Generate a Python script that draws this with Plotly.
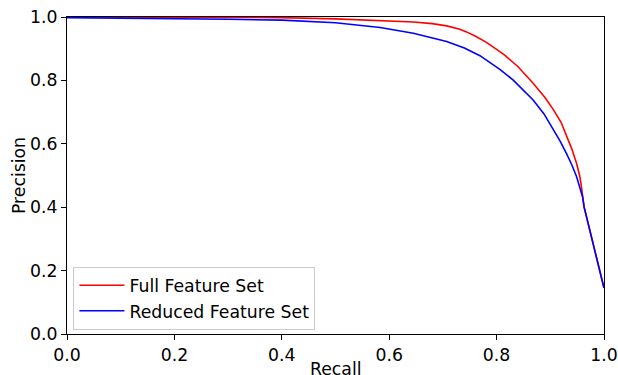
import plotly.graph_objects as go

recall_full = [0.0, 0.1, 0.2, 0.3, 0.4, 0.5, 0.583, 0.645, 0.68, 0.707, 0.73, 0.744, 0.76,
               0.781, 0.80, 0.815, 0.84, 0.868, 0.89, 0.906, 0.92, 0.930, 0.940, 0.949,
               0.955, 0.958, 0.963, 1.0]
precision_full = [1.0, 1.0, 0.9995, 0.999, 0.998, 0.994, 0.988, 0.984, 0.979, 0.972, 0.962,
                  0.953, 0.940, 0.920, 0.898, 0.880, 0.843, 0.791, 0.746, 0.707, 0.668,
                  0.628, 0.584, 0.538, 0.497, 0.464, 0.40, 0.145]

recall_reduced = [0.0, 0.1, 0.2, 0.3, 0.4, 0.44, 0.5, 0.583, 0.645, 0.707, 0.74, 0.769, 0.79,
                  0.806, 0.831, 0.85, 0.868, 0.888, 0.906, 0.918, 0.930, 0.940, 0.949, 0.956,
                  0.960, 0.963, 1.0]
precision_reduced = [0.998, 0.997, 0.995, 0.993, 0.990, 0.987, 0.982, 0.967, 0.949, 0.923,
                     0.902, 0.878, 0.855, 0.835, 0.801, 0.770, 0.738, 0.695, 0.644, 0.609,
                     0.570, 0.534, 0.496, 0.460, 0.433, 0.40, 0.145]

tick_vals = [0.0, 0.2, 0.4, 0.6, 0.8, 1.0]
tick_text = ["0.0", "0.2", "0.4", "0.6", "0.8", "1.0"]

font = dict(family="DejaVu Sans", size=17.3, color="black")

fig = go.Figure()
fig.add_trace(go.Scatter(x=recall_full, y=precision_full, mode="lines",
                         name="Full Feature Set", line=dict(color="#ff0000", width=1.6)))
fig.add_trace(go.Scatter(x=recall_reduced, y=precision_reduced, mode="lines",
                         name="Reduced Feature Set", line=dict(color="#0000ff", width=1.6)))

axis_common = dict(
    showgrid=False, zeroline=False, showline=True, linecolor="black", linewidth=1,
    mirror=True, ticks="outside", ticklen=5, tickwidth=1, tickcolor="black",
    tickfont=font, tickvals=tick_vals, ticktext=tick_text, automargin=False,
)

fig.update_layout(
    width=618, height=375,
    margin=dict(l=67, r=14, t=17, b=41),
    plot_bgcolor="white", paper_bgcolor="white",
    font=font,
    xaxis=dict(range=[0, 1], **axis_common),
    yaxis=dict(range=[0, 1], title=dict(text="Precision", font=font, standoff=0), **axis_common),
    legend=dict(x=0.012, y=0.014, xanchor="left", yanchor="bottom",
                bgcolor="rgba(255,255,255,0.8)", bordercolor="#cccccc", borderwidth=1,
                font=font, tracegroupgap=0, itemwidth=45),
    showlegend=True,
    annotations=[dict(text="Recall", xref="paper", yref="paper", x=0.5, y=-0.074,
                      xanchor="center", yanchor="top", showarrow=False, font=font)],
)

fig.write_html("out.html", config={"displayModeBar": False},
               post_script="document.body.style.margin='0';document.body.style.overflow='hidden';")
